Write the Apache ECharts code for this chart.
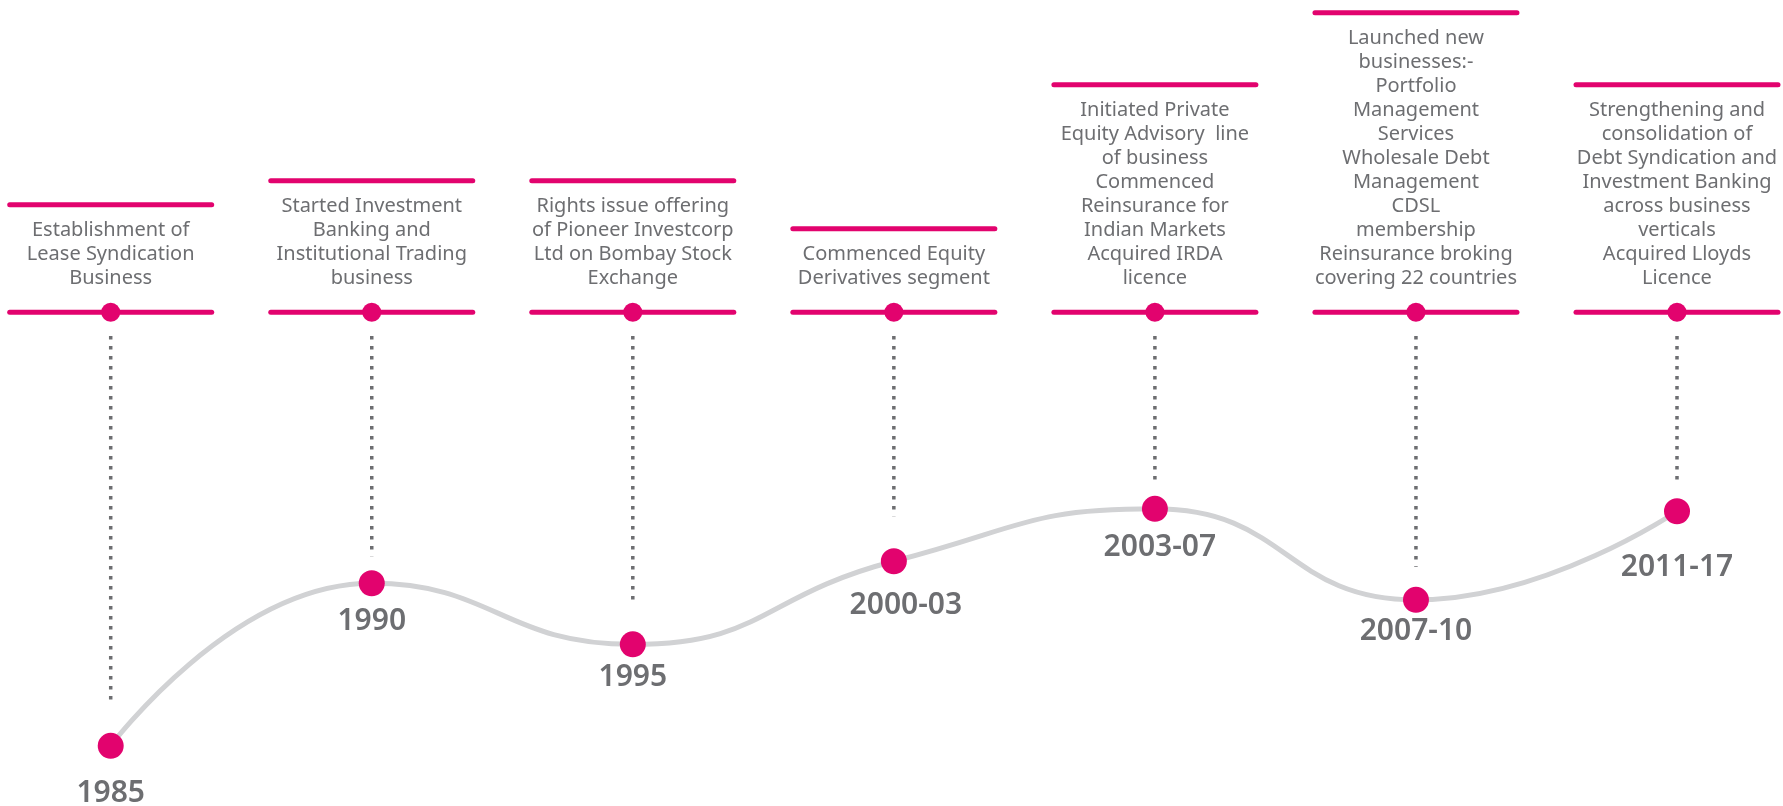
<!DOCTYPE html>
<html>
<head>
<meta charset="utf-8">
<script src="https://cdn.jsdelivr.net/npm/echarts@6/dist/echarts.min.js"></script>
<style>
html,body{margin:0;padding:0;background:#fff;}
#chart{width:1783px;height:806px;}
</style>
</head>
<body>
<div id="chart"></div>
<script>
// ---- data ----
const periods = ['1985', '1990', '1995', '2000-03', '2003-07', '2007-10', '2011-17'];
// relative height of each milestone on the wave (0-100 scale)
const heights = [13.75, 55, 39.5, 60.6, 73.9, 50.8, 73.3];
const milestones = [
  'Establishment of\nLease Syndication\nBusiness',
  'Started Investment\nBanking and\nInstitutional Trading\nbusiness',
  'Rights issue offering\nof Pioneer Investcorp\nLtd on Bombay Stock\nExchange',
  'Commenced Equity\nDerivatives segment',
  'Initiated Private\nEquity Advisory  line\nof business\nCommenced\nReinsurance for\nIndian Markets\nAcquired IRDA\nlicence',
  'Launched new\nbusinesses:-\nPortfolio\nManagement\nServices\nWholesale Debt\nManagement\nCDSL\nmembership\nReinsurance broking\ncovering 22 countries',
  'Strengthening and\nconsolidation of\nDebt Syndication and\nInvestment Banking\nacross business\nverticals\nAcquired Lloyds\nLicence'
];

// ---- layout (not data) ----
const yearLabelDistance = [20, 10, 5, 16, 11, 4, 28];
const yearLabelShift = [0, 0, 0, 12, 5, 0, 0];
const stemGap = [40, 27, 39, 45, 23, 33, 26];

const MAGENTA = '#e2036e';
const TEXT = '#6d6e71';
const CURVE = '#d1d2d4';
const FONT = '"Noto Sans", "Open Sans", sans-serif';

const chart = echarts.init(document.getElementById('chart'), null, {renderer: 'canvas'});

const lowerY = 312.3;
const lastLineCenter = 278.3;
const lineH = 24;
const halfW = 101;

const option = {
  backgroundColor: '#ffffff',
  animation: false,
  grid: {left: 110.7, right: 106, top: 406, bottom: 6, containLabel: false},
  xAxis: {
    type: 'category', data: periods, boundaryGap: false, show: false
  },
  yAxis: {type: 'value', min: 0, max: 100, show: false},
  series: [
    {
      type: 'custom',
      clip: false,
      silent: true,
      z: 1,
      data: heights.map((h, i) => [i, h]),
      renderItem: function (params, api) {
        const i = api.value(0);
        const p = api.coord([i, api.value(1)]);
        const x = p[0];
        const text = milestones[i];
        const n = text.split('\n').length;
        const topY = lastLineCenter - (n - 1) * lineH - 25.6;
        return {
          type: 'group',
          children: [
            {type: 'line', shape: {x1: x - halfW, y1: topY, x2: x + halfW, y2: topY},
             style: {stroke: MAGENTA, lineWidth: 5, lineCap: 'round'}},
            {type: 'text', style: {text: text, x: x, y: lastLineCenter + lineH / 2,
              align: 'center', verticalAlign: 'bottom', fill: TEXT,
              font: '20px ' + FONT, lineHeight: lineH}},
            {type: 'line', shape: {x1: x - halfW, y1: lowerY, x2: x + halfW, y2: lowerY},
             style: {stroke: MAGENTA, lineWidth: 5, lineCap: 'round'}},
            {type: 'circle', shape: {cx: x, cy: lowerY, r: 9.5}, style: {fill: MAGENTA}},
            {type: 'line', shape: {x1: x, y1: 336, x2: x, y2: p[1] - stemGap[i]},
             style: {stroke: TEXT, lineWidth: 3.5, lineDash: [3.5, 6.5]}}
          ]
        };
      }
    },
    {
      type: 'line',
      z: 3,
      data: heights.map((h, i) => ({
        value: h,
        label: {distance: yearLabelDistance[i], offset: [yearLabelShift[i], 0]}
      })),
      smooth: 0.5,
      symbol: 'circle',
      symbolSize: 26,
      showAllSymbol: true,
      itemStyle: {color: MAGENTA, borderWidth: 0},
      lineStyle: {color: CURVE, width: 5},
      label: {
        show: true,
        position: 'bottom',
        formatter: p => p.name,
        color: TEXT,
        fontFamily: FONT,
        fontSize: 30,
        fontWeight: 600
      }
    }
  ]
};
chart.setOption(option);
</script>
</body>
</html>
